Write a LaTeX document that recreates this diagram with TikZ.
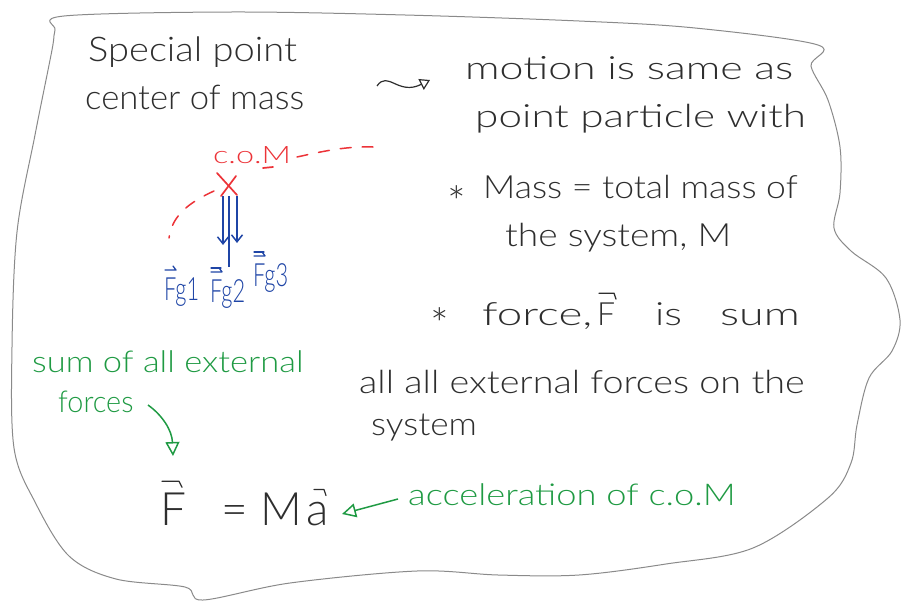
\documentclass[tikz,border=0pt]{standalone}
\usepackage{fontspec}
\setmainfont{Lato}[UprightFont={* Light}]
\usetikzlibrary{arrows.meta,calc}
\definecolor{ink}{HTML}{2E2E2E}
\definecolor{redink}{HTML}{EC3338}
\definecolor{blueink}{HTML}{1F45A6}
\definecolor{greenink}{HTML}{1F9A43}
\definecolor{pencil}{HTML}{8A8A8A}
\newcommand{\sx}[2]{\scalebox{#1}[1]{#2}}
\begin{document}
\begin{tikzpicture}[x=1pt,y=-1pt,
  lbl/.style={inner sep=0pt, anchor=base west, text=ink},
  big/.style={lbl, font=\fontsize{34}{38}\selectfont},
  mid/.style={lbl, font=\fontsize{32}{36}\selectfont},
  starsty/.style={lbl, font=\fontsize{44}{48}\selectfont},
  eqs/.style={lbl, font=\fontsize{46}{50}\selectfont},
  grn/.style={lbl, text=greenink, font=\fontsize{30}{34}\selectfont},
  blu/.style={lbl, text=blueink, font=\fontsize{32}{36}\selectfont},
  rdl/.style={lbl, text=redink, font=\fontsize{24}{28}\selectfont},
  reddash/.style={draw=redink, line width=1.5pt, line cap=round, dash pattern=on 11pt off 11pt},
  redx/.style={draw=redink, line width=1.7pt, line cap=round},
  bluearrow/.style={draw=blueink, line width=1.5pt, -{Straight Barb[length=7pt,width=11pt]}},
  blueline/.style={draw=blueink, line width=1.5pt},
  hookink/.style={draw=ink, line width=1.2pt, line cap=round, line join=round},
  hookblue/.style={draw=blueink, line width=1.3pt, line cap=round, line join=round},
  greenarrow/.style={draw=greenink, line width=1.5pt, -{Triangle[open,length=14pt,width=14pt,line width=1.5pt]}},
  inkarrow/.style={draw=ink, line width=1.2pt, -{Triangle[open,length=10pt,width=12pt]}},
  frame/.style={draw=pencil, line width=1pt}]
\useasboundingbox (0,0) rectangle (903,602);
% pencil border
\draw[frame] plot[smooth cycle, tension=0.55] coordinates {
 (55,30) (64,16) (232,12) (405,15) (579,21) (695,28) (818,45) (811,66) (828,100)
 (840,147) (840,193) (834,228) (851,251) (886,278) (900,320) (892,351) (869,378)
 (857,425) (851,463) (828,498) (753,548) (666,564) (579,575) (498,575) (417,571)
 (290,583) (203,600) (185,587) (116,579) (69,556) (35,502) (14,448) (12,347)
 (17,232) (35,135) (52,50)};
% black texts
\node[big] (special) at (88,62) {\sx{1.12}{Special point}};
\node[big] (center) at (85,110) {\sx{1.02}{center of mass}};
\node[mid] (motion) at (465,80) {\sx{1.34}{motion is same as}};
\node[mid] (pointp) at (475,128) {\sx{1.32}{point particle with}};
\node[starsty] (star1) at (447,218) {*};
\node[mid] (mass) at (483,198) {\sx{1.11}{Mass = total mass of}};
\node[mid] (system) at (505,246) {\sx{1.16}{the system, M}};
\node[starsty] (star2) at (430,340) {*};
\node[mid] (force) at (482,325) {\sx{1.43}{force,}};
\node[mid] (forceF) at (597,325) {F};
\node[mid] (is) at (655,325) {\sx{1.3}{is}};
\node[mid] (sum) at (720,325) {\sx{1.4}{sum}};
\node[mid] (allall) at (359,393) {\sx{1.18}{all all external forces on the}};
\node[mid] (systemb) at (371,435) {\sx{1.1}{system}};
% equation
\node[eqs] (eqF) at (160,525) {F};
\node[eqs] (eqM) at (221,525) {= M};
\node[eqs] (eqa) at (306,525) {a};
\draw[hookink] ($(forceF.north west)+(2,-9)$) -- ++(15,0) -- ++(2,6);
\draw[hookink] ($(eqF.north west)+(2,-11)$) -- ++(17,0) -- ++(3,6);
\draw[hookink] ($(eqa.north west)+(8,-12)$) -- ++(10,0) -- ++(2,6);
% tilde arrow
\coordinate (tl) at (377,86);
\coordinate (tr) at (430,80);
\draw[inkarrow] (tl) .. controls (388,70) and (398,96) .. (tr);
% green
\node[grn] (sumof) at (32,372) {\sx{1.15}{sum of all external}};
\node[grn] (forces) at (58,412) {\sx{0.96}{forces}};
\node[grn] (accel) at (408,505) {\sx{1.21}{acceleration of c.o.M}};
\coordinate (gf1) at (148,405);
\coordinate (gf2) at (173,456);
\draw[greenarrow] (gf1) .. controls (162,415) and (172,430) .. (gf2);
\coordinate (ga1) at (398,499);
\coordinate (ga2) at (342,514);
\draw[greenarrow] (ga1) -- (ga2);
% red centre of mass
\node[rdl] (comlbl) at (213,163) {\sx{1.35}{c.o.M}};
\coordinate (com) at (228,186);
\draw[redx] ($(com)+(-11,-13)$) -- ($(com)+(9,9)$);
\draw[redx] ($(com)+(8,-10)$) -- ($(com)+(-7,10)$);
\coordinate (d1) at (297,157);
\coordinate (d2) at (373,147);
\draw[reddash] (d1) .. controls (320,152) and (345,146) .. (d2);
\coordinate (d3) at (214,191);
\coordinate (d4) at (169,238);
\draw[reddash] (d3) .. controls (190,202) and (172,215) .. (d4);
\draw[redx] (263,168) -- (273,167);
% blue forces
\coordinate (b1s) at (223,196);
\coordinate (b1e) at (223,245);
\coordinate (b2s) at (229,196);
\coordinate (b2e) at (229,267);
\coordinate (b3s) at (237,196);
\coordinate (b3e) at (237,243);
\draw[bluearrow] (b1s) -- (b1e);
\draw[blueline] (b2s) -- (b2e);
\draw[bluearrow] (b3s) -- (b3e);
\node[blu] (fg1) at (164,300) {\sx{0.68}{Fg1}};
\node[blu] (fg2) at (210,302) {\sx{0.68}{Fg2}};
\node[blu] (fg3) at (253,286) {\sx{0.68}{Fg3}};
\draw[hookblue] ($(fg1.north west)+(1,-7)$) -- ++(11,0) -- ++(-3,-4);
\draw[hookblue] ($(fg2.north west)+(1,-7)$) -- ++(11,0) -- ++(-3,-4);
\draw[hookblue] ($(fg2.north west)+(1,-11)$) -- ++(10,0);
\draw[hookblue] ($(fg3.north west)+(1,-7)$) -- ++(11,0) -- ++(-3,-4);
\draw[hookblue] ($(fg3.north west)+(1,-11)$) -- ++(10,0);
\end{tikzpicture}
\end{document}
